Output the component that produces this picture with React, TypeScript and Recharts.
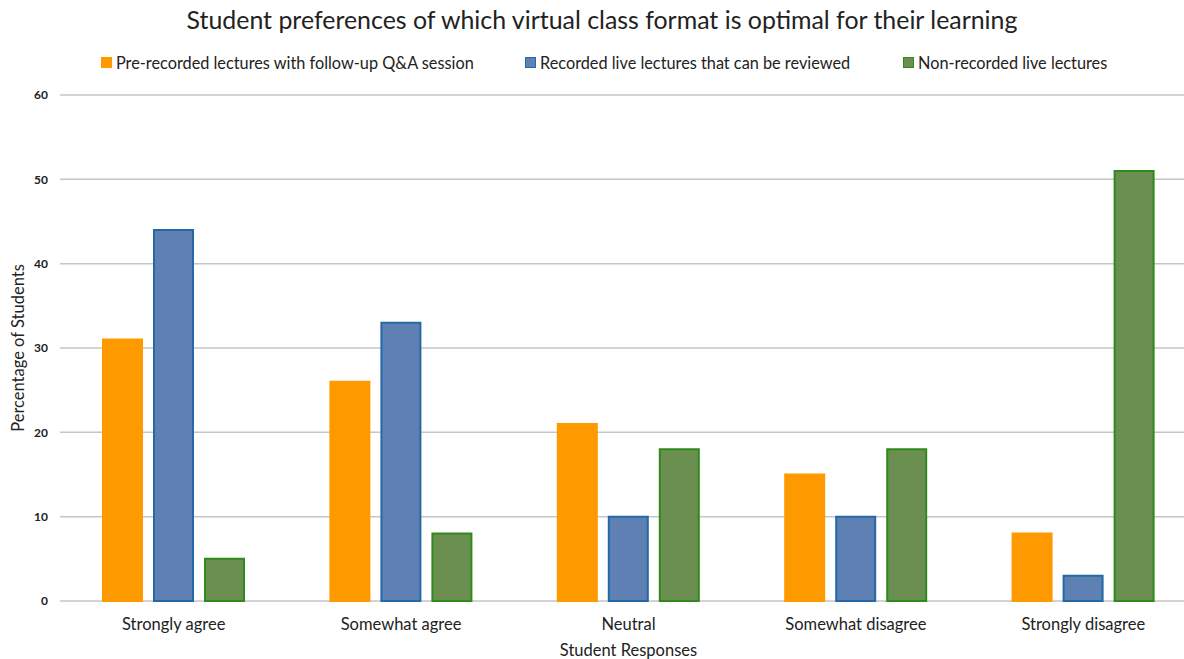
import React from "react"
import { BarChart, Bar, XAxis, YAxis, CartesianGrid, Legend } from "recharts"

const CATEGORIES = ["Strongly agree", "Somewhat agree", "Neutral", "Somewhat disagree", "Strongly disagree"]
const PRE_RECORDED = [31, 26, 21, 15, 8]
const RECORDED_LIVE = [44, 33, 10, 10, 3]
const NON_RECORDED = [5, 8, 18, 18, 51]
const Y_TICKS = [0, 10, 20, 30, 40, 50, 60]

const SERIES = [
    { key: "pre", name: "Pre-recorded lectures with follow-up Q&A session", fill: "#FF9900", stroke: "#FF9900" },
    { key: "live", name: "Recorded live lectures that can be reviewed", fill: "#5E80B2", stroke: "#2369A8" },
    { key: "non", name: "Non-recorded live lectures", fill: "#6A8F50", stroke: "#2F8A1C" },
]

// left edge of each legend item
const LEGEND_X = [101, 525, 903]

const data = CATEGORIES.map((c, i) => ({
    category: c,
    pre: PRE_RECORDED[i],
    live: RECORDED_LIVE[i],
    non: NON_RECORDED[i],
}))

const FONT = "Lato, 'Open Sans', sans-serif"

const LegendContent = () => (
    <div style={{ position: "relative", fontFamily: FONT, fontSize: 16.3, color: "#222", height: 20 }}>
        {SERIES.map((s, i) => (
            <div key={s.key} style={{ position: "absolute", left: LEGEND_X[i], top: 0, height: 20, display: "flex", alignItems: "center", whiteSpace: "nowrap" }}>
                <span style={{ display: "inline-block", width: 9, height: 9, background: s.fill, border: `1px solid ${s.stroke}`, marginRight: 4 }} />
                <span>{s.name}</span>
            </div>
        ))}
    </div>
)

export default function App() {
    return (
        <div style={{ position: "fixed", top: 0, left: 0, width: 1184, height: 659, background: "#fff", overflow: "hidden" }}>
            <div style={{ position: "absolute", top: 4, width: 1184, textAlign: "center", paddingLeft: 20, boxSizing: "border-box", fontFamily: FONT, fontSize: 24.9, color: "#222" }}>
                Student preferences of which virtual class format is optimal for their learning
            </div>
            <BarChart width={1184} height={659} data={data} margin={{ top: 75, right: -13, left: 0, bottom: 0 }} barSize={39} barGap={12}>
                <CartesianGrid vertical={false} stroke="#c6c6c6" strokeWidth={1.5} />
                <XAxis
                    dataKey="category"
                    height={58}
                    axisLine={false}
                    tickLine={false}
                    tick={{ fill: "#222", fontSize: 16.5, fontFamily: FONT }}
                    dy={9}
                    label={{ value: "Student Responses", position: "insideBottom", offset: 3, fill: "#222", fontSize: 16.5, fontFamily: FONT }}
                />
                <YAxis
                    width={60}
                    domain={[0, 60]}
                    ticks={Y_TICKS}
                    interval={0}
                    axisLine={false}
                    tickLine={false}
                    tick={{ fill: "#222", fontSize: 12, fontWeight: 700, fontFamily: FONT }}
                    dx={-4}
                    label={{ value: "Percentage of Students", angle: -90, position: "insideLeft", offset: 18, fill: "#222", fontSize: 16.5, fontFamily: FONT, style: { textAnchor: "middle" } }}
                />
                <Legend verticalAlign="top" content={<LegendContent />} wrapperStyle={{ position: "absolute", top: 52, left: 0, width: 1184 }} />
                {SERIES.map((s) => (
                    <Bar key={s.key} dataKey={s.key} name={s.name} fill={s.fill} stroke={s.stroke} strokeWidth={2} isAnimationActive={false} />
                ))}
            </BarChart>
        </div>
    )
}
